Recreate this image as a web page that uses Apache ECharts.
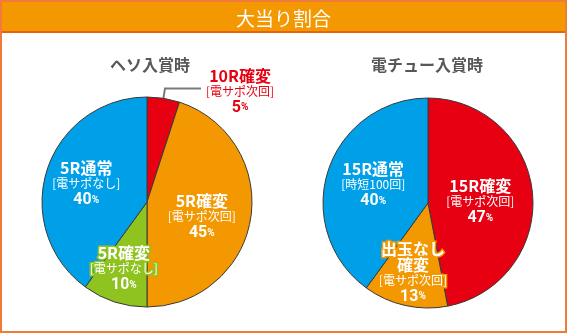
<!DOCTYPE html>
<html><head><meta charset="utf-8">
<script src="https://cdn.jsdelivr.net/npm/echarts@6/dist/echarts.min.js"></script>
<style>html,body{margin:0;padding:0;background:#fff}#c{width:567px;height:333px}</style>
</head><body><div id="c"></div>
<script>
const mainTitle = '大当り割合';
const leftTitle = 'ヘソ入賞時';
const rightTitle = '電チュー入賞時';
const leftNames = ['10R確変', '5R確変', '5R確変', '5R通常'];
const leftNotes = ['[電サポ次回]', '[電サポ次回]', '[電サポなし]', '[電サポなし]'];
const leftValues = [5, 45, 10, 40];
const rightNames = ['15R確変', '出玉なし\n確変', '15R通常'];
const rightNotes = ['[電サポ次回]', '[電サポ次回]', '[時短100回]'];
const rightValues = [47, 13, 40];

const leftColors = ['#e60012', '#f39800', '#8fc31f', '#00a0e9'];
const rightColors = ['#e60012', '#f39800', '#00a0e9'];
const leftDy = [4, 7, 15, 0];
const leftDx = [0, 0, -6, -8];
const rightDy = [5, 16, 0];
const rightDx = [-3, -3, -2];
const FONT = '"Noto Sans CJK JP", sans-serif';

function rich(fill, border) {
  const base = {color: fill, textBorderColor: border, textBorderWidth: 3, fontFamily: FONT, fontWeight: 'bold', align: 'center'};
  return {
    n: Object.assign({}, base, {fontSize: 16, lineHeight: 16}),
    s: Object.assign({}, base, {fontSize: 12, fontWeight: 'normal', lineHeight: 15}),
    v: Object.assign({}, base, {fontSize: 16, lineHeight: 18, fontFamily: 'Roboto, sans-serif'}),
    p: Object.assign({}, base, {fontSize: 10, lineHeight: 18, fontFamily: 'Roboto, sans-serif'})
  };
}
function fmt(names, notes) {
  return function (p) {
    const nm = names[p.dataIndex].split('\n').map(t => '{n|' + t + '}').join('\n');
    return nm + '\n{s|' + notes[p.dataIndex] + '}\n{v|' + p.value + '}{p|%}';
  };
}
function buildData(names, values, colors, outsideIdx) {
  return values.map((v, i) => {
    const item = {name: names[i], value: v, itemStyle: {color: colors[i]}};
    if (i === outsideIdx) {
      item.label = {position: 'outside', rich: rich(colors[i], '#ffffff'), color: colors[i]};
      item.labelLine = {show: true, length: 10, length2: 36, lineStyle: {color: '#7a7a7a', width: 2}};
    } else {
      item.label = {position: 'inside', rich: rich('#ffffff', colors[i])};
      item.labelLine = {show: false};
    }
    return item;
  });
}

const chart = echarts.init(document.getElementById('c'), null, {renderer: 'canvas'});
chart.setOption({
  animation: false,
  backgroundColor: '#ffffff',
  graphic: [
    {type: 'rect', shape: {x: 1, y: 1, width: 565, height: 331}, style: {fill: 'none', stroke: '#f07a3a', lineWidth: 2}, z: 100},
    {type: 'rect', shape: {x: 1, y: 1, width: 565, height: 31}, style: {fill: '#f39800', stroke: '#e8630f', lineWidth: 2}, z: 0}
  ],
  title: [
    {text: mainTitle, left: 'center', top: 4, textStyle: {color: '#ffffff', fontSize: 19, fontWeight: 'normal', fontFamily: FONT}},
    {text: leftTitle, left: 145, textAlign: 'center', top: 52, textStyle: {color: '#595757', fontSize: 16, fontWeight: 'bold', fontFamily: FONT}},
    {text: rightTitle, left: 422, textAlign: 'center', top: 52, textStyle: {color: '#595757', fontSize: 16, fontWeight: 'bold', fontFamily: FONT}}
  ],
  series: [
    {
      type: 'pie', center: [147, 202], radius: [0, 105], startAngle: 90, clockwise: true,
      itemStyle: {borderColor: '#3a3a3a', borderWidth: 1},
      label: {show: true, formatter: fmt(leftNames, leftNotes)},
      labelLayout: function (p) { return {dx: leftDx[p.dataIndex], dy: leftDy[p.dataIndex]}; },
      data: buildData(leftNames, leftValues, leftColors, 0)
    },
    {
      type: 'pie', center: [428, 203], radius: [0, 105], startAngle: 90, clockwise: true,
      itemStyle: {borderColor: '#3a3a3a', borderWidth: 1},
      label: {show: true, formatter: fmt(rightNames, rightNotes)},
      labelLayout: function (p) { return {dx: rightDx[p.dataIndex], dy: rightDy[p.dataIndex]}; },
      data: buildData(rightNames, rightValues, rightColors, -1)
    }
  ]
});
</script></body></html>
